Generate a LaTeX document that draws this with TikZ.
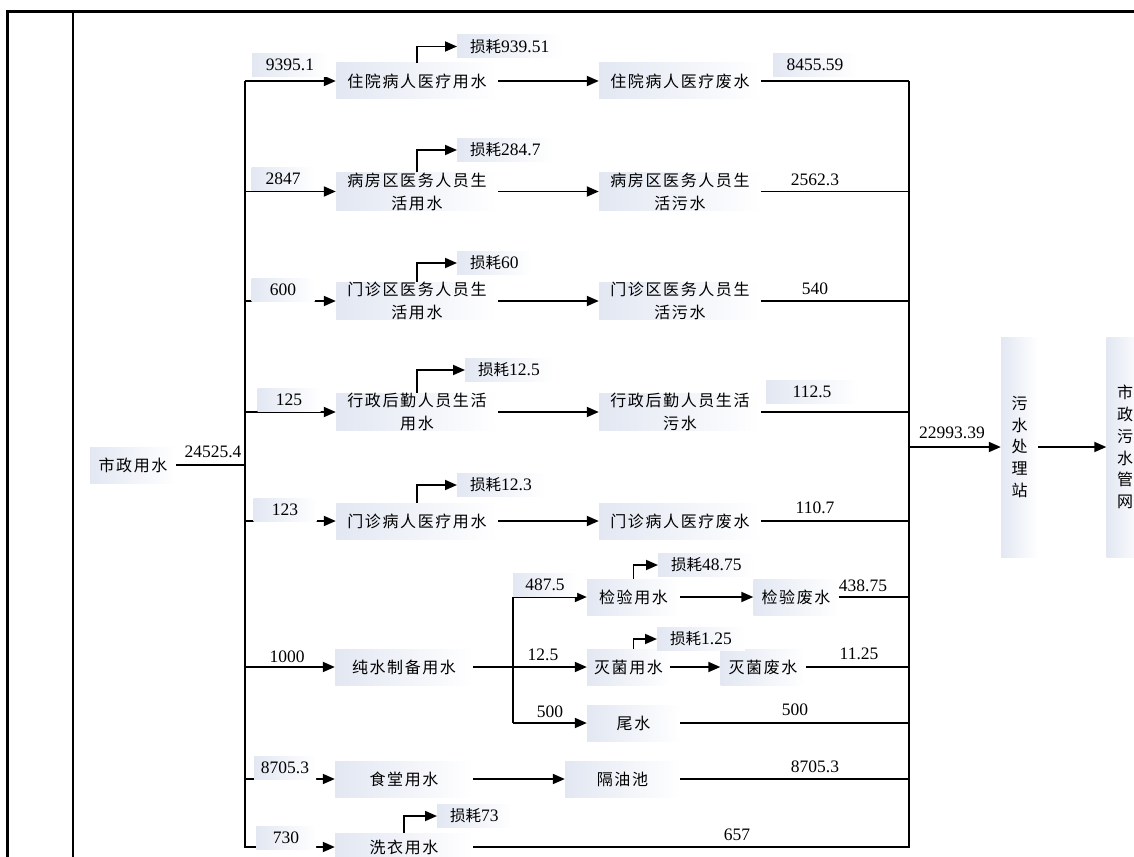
\documentclass[tikz,border=0pt]{standalone}
\usepackage{fontspec}
\setmainfont{Liberation Serif}
\newfontfamily\cjk{Noto Sans CJK SC}
\newfontfamily\cjksp[LetterSpace=10]{Noto Sans CJK SC}
\usetikzlibrary{arrows.meta}
\definecolor{nodefill}{RGB}{226,231,242}
\begin{document}
\begin{tikzpicture}[x=1pt,y=-1pt,
  ln/.style={line width=1.8pt, draw=black},
  arr/.style={ln, -{Triangle[length=12pt,width=10pt]}},
  box/.style={left color=nodefill, right color=white, draw=none, inner sep=0pt, align=center,
    minimum height=36pt, font=\cjksp\fontsize{16}{23}\selectfont},
  vbox/.style={left color=nodefill, right color=white, draw=none, inner sep=0pt, align=center,
    minimum width=37pt, minimum height=220pt, font=\cjk\fontsize{16}{21.7}\selectfont},
  num/.style={font=\fontsize{17.5}{20}\selectfont, inner sep=1pt},
  numf/.style={num, left color=nodefill, right color=white, minimum height=23pt},
  loss/.style={left color=nodefill, right color=white, anchor=west, inner xsep=13pt, inner ysep=2pt,
    minimum height=23pt, font=\fontsize{17.5}{20}\selectfont},
  w162/.style={minimum width=162pt},
  w138/.style={minimum width=138pt},
  w93/.style={minimum width=93pt},
  w85/.style={minimum width=85pt}]
\useasboundingbox (0,0) rectangle (1134,856);
% frame
\draw[line width=3pt] (7,857) -- (7,12) -- (1135,12);
\draw[line width=1.2pt] (73,12) -- (73,857);

% source
\node[box, minimum width=86pt] (src) at (133,465) {市政用水};
\coordinate (lT) at (245,81);
\coordinate (lB) at (245,848);
\coordinate (rT) at (909,81);
\coordinate (rB) at (909,848);
\draw[ln] (lT) -- (lB);
\draw[ln] (rT) -- (rB);
\draw[ln] (src.east) -- (src.east -| lT);
\node[num] (lsrc) at (213,452) {24525.4};

% column 2
\node[box, w162] (r1a) at (417,81) {住院病人医疗用水};
\node[box, w162] (r2a) at (417,191.5) {病房区医务人员生\\活用水};
\node[box, w162] (r3a) at (417,301) {门诊区医务人员生\\活用水};
\node[box, w162] (r4a) at (417,412) {行政后勤人员生活\\用水};
\node[box, w162] (r5a) at (417,521) {门诊病人医疗用水};
\node[box, w138] (pw) at (404,667) {纯水制备用水};
\node[box, w138] (st) at (404,779) {食堂用水};
\node[box, w138, minimum height=28pt] (xy) at (404,847) {洗衣用水};

% column 3
\node[box, w162] (r1b) at (680,81) {住院病人医疗废水};
\node[box, w162] (r2b) at (680,191.5) {病房区医务人员生\\活污水};
\node[box, w162] (r3b) at (680,301) {门诊区医务人员生\\活污水};
\node[box, w162] (r4b) at (680,412) {行政后勤人员生活\\污水};
\node[box, w162] (r5b) at (680,521) {门诊病人医疗废水};

% pure water subtree
\node[box, w93] (jy) at (633.5,597) {检验用水};
\node[box, w85] (jyf) at (796,597) {检验废水};
\node[box, minimum width=83pt] (mj) at (628.5,667) {灭菌用水};
\node[box, w85] (mjf) at (763,667) {灭菌废水};
\node[box, w93] (ws) at (633.5,723) {尾水};
\node[box, minimum width=115pt] (gy) at (622.5,779) {隔油池};

% treatment
\node[vbox] (wst) at (1019.5,447) {污\\水\\处\\理\\站};
\node[vbox] (net) at (1125,447) {市\\政\\污\\水\\管\\网};

% branch arrows from left bus
\foreach \n in {r1a,r2a,r3a,r4a,r5a,pw,st,xy}
  \draw[arr] (\n.west -| lT) -- (\n.west);
% col2 -> col3
\foreach \a/\b in {r1a/r1b,r2a/r2b,r3a/r3b,r4a/r4b,r5a/r5b}
  \draw[arr] (\a.east) -- (\b.west);
% col3 -> right bus
\foreach \n in {r1b,r2b,r3b,r4b,r5b,jyf,mjf,ws,gy,xy}
  \draw[ln] (\n.east) -- (\n.east -| rT);

% pure water split
\coordinate (sp) at (513,667);
\draw[ln] (jy.west -| sp) -- (ws.west -| sp);
\draw[arr] (pw.east) -- (mj.west);
\draw[arr] (jy.west -| sp) -- (jy.west);
\draw[arr] (ws.west -| sp) -- (ws.west);
\draw[arr] (jy.east) -- (jyf.west);
\draw[arr] (mj.east) -- (mjf.west);
\draw[arr] (st.east) -- (gy.west);

% out
\draw[arr] (wst.west -| rT) -- (wst.west);
\draw[arr] (wst.east) -- (net.west);
\node[num] (lout) at (952,433) {22993.39};

% left labels
\node[numf, minimum width=76pt] (l1) at (290,65) {9395.1};
\node[numf, minimum width=63pt] (l2) at (283,179) {2847};
\node[numf, minimum width=63pt] (l3) at (283,290) {600};
\node[numf, minimum width=63pt] (l4) at (289,400) {125};
\node[numf, minimum width=63pt] (l5) at (285,510) {123};
\node[num] (l6) at (287,657) {1000};
\node[numf, minimum width=62pt] (l7) at (285,768) {8705.3};
\node[numf, minimum width=60pt] (l8) at (286,838) {730};
\node[numf, minimum width=64pt] (l9) at (545,585) {487.5};
\node[num] (l10) at (543,655) {12.5};
\node[num] (l11) at (550,712) {500};

% right labels
\node[numf, minimum width=84pt] (m1) at (815,65) {8455.59};
\node[num] (m2) at (815,180) {2562.3};
\node[num] (m3) at (815,289) {540};
\node[numf, minimum width=92pt] (m4) at (812,392) {112.5};
\node[num] (m5) at (815,508) {110.7};
\node[num] (m6) at (863,586) {438.75};
\node[num] (m7) at (859,654) {11.25};
\node[num] (m8) at (795,710) {500};
\node[num] (m9) at (815,767) {8705.3};
\node[num] (m10) at (737,835) {657};

% losses
\node[loss] (s1) at (457,46.5) {{\cjk\fontsize{15.5}{18}\selectfont 损耗}939.51};
\node[loss] (s2) at (457,150) {{\cjk\fontsize{15.5}{18}\selectfont 损耗}284.7};
\node[loss] (s3) at (457,263) {{\cjk\fontsize{15.5}{18}\selectfont 损耗}60};
\node[loss] (s4) at (465,370) {{\cjk\fontsize{15.5}{18}\selectfont 损耗}12.5};
\node[loss] (s5) at (457,485) {{\cjk\fontsize{15.5}{18}\selectfont 损耗}12.3};
\node[loss] (s6) at (658,565) {{\cjk\fontsize{15.5}{18}\selectfont 损耗}48.75};
\node[loss] (s7) at (657,639) {{\cjk\fontsize{15.5}{18}\selectfont 损耗}1.25};
\node[loss] (s8) at (437,816) {{\cjk\fontsize{15.5}{18}\selectfont 损耗}73};
\foreach \a/\b in {r1a/s1,r2a/s2,r3a/s3,r4a/s4,r5a/s5,xy/s8}
  \draw[arr] (\a.north) |- (\b.west);
\draw[arr] (jy.north) |- (s6.west);
\draw[arr] (jy.north |- mj.north) |- (s7.west);
\end{tikzpicture}
\end{document}
